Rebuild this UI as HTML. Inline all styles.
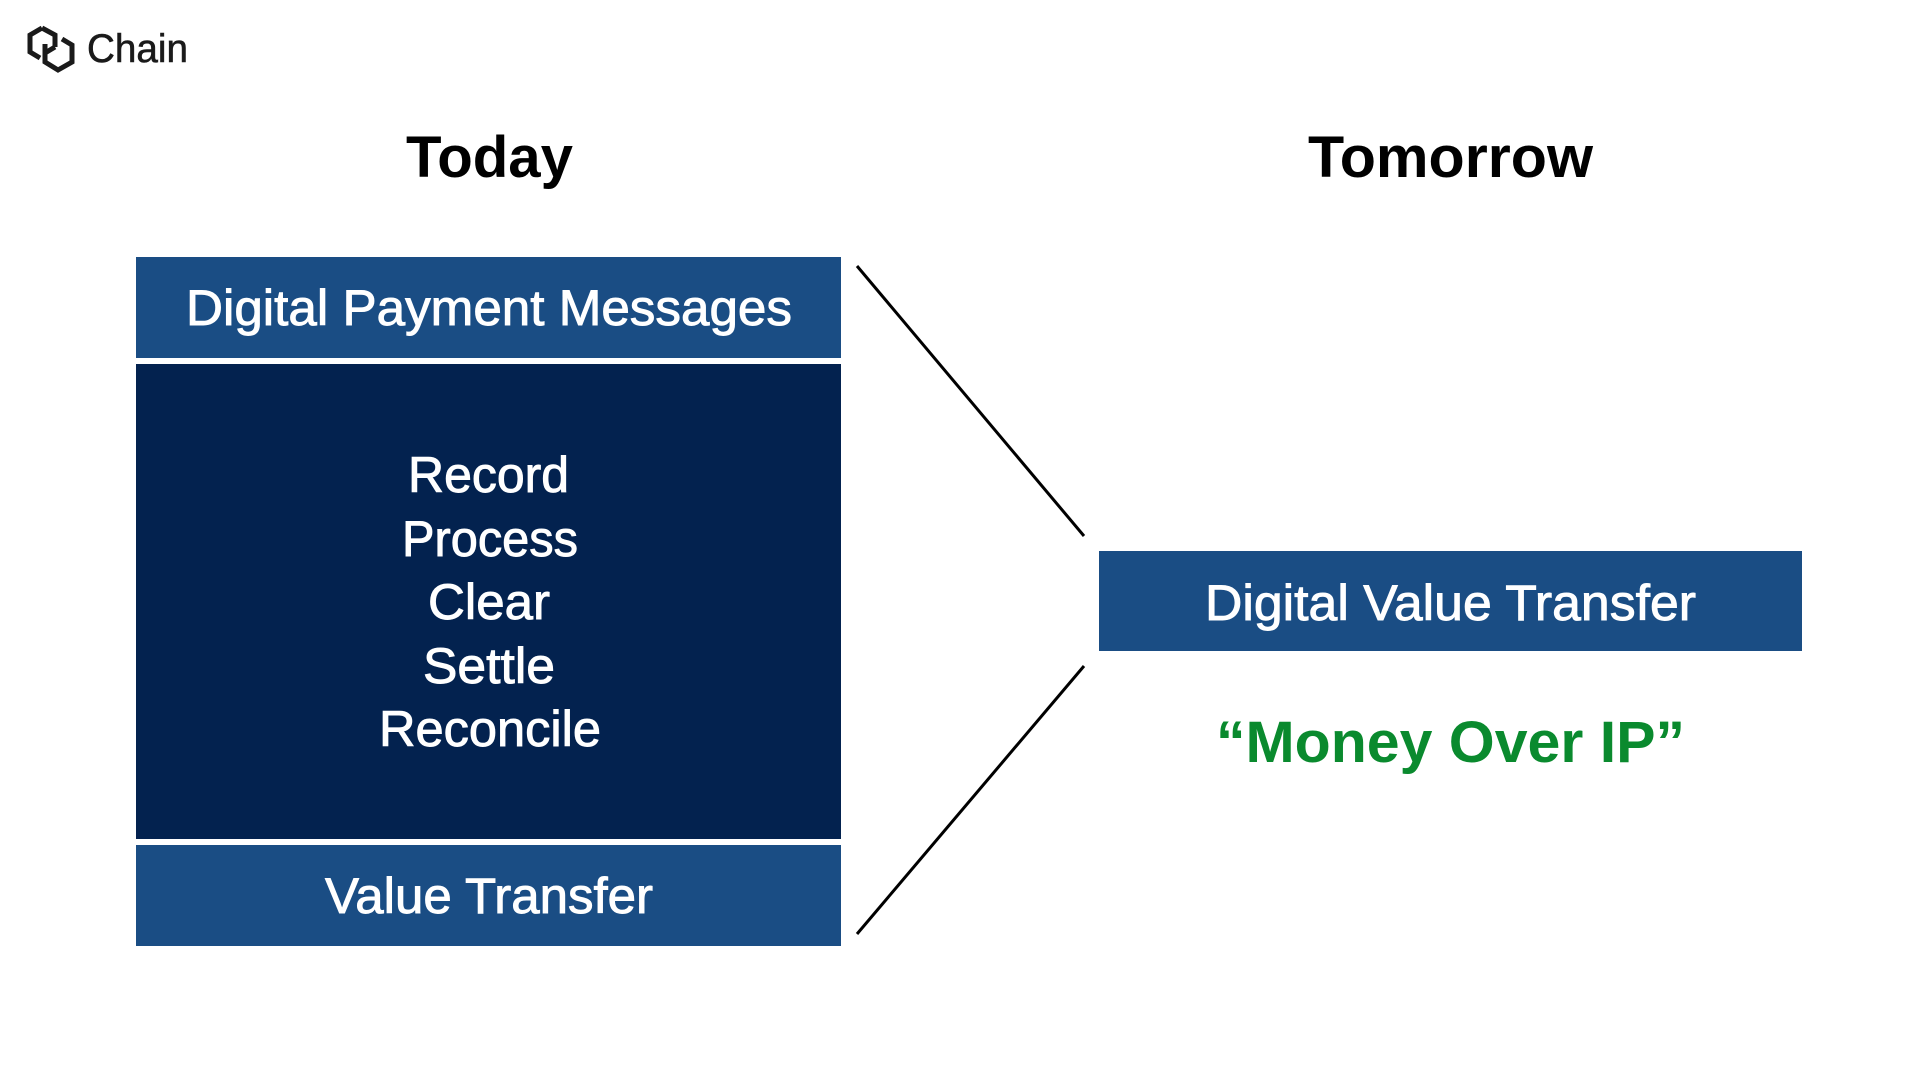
<!DOCTYPE html>
<html><head><meta charset="utf-8"><style>
html,body{margin:0;padding:0;background:#fff;}
svg{display:block}
text{font-family:"Liberation Sans",sans-serif;}
</style></head><body>
<svg width="1920" height="1080" viewBox="0 0 1920 1080" xmlns="http://www.w3.org/2000/svg">
<rect width="1920" height="1080" fill="#fff"/>
<g fill="none" stroke="#1a1a1a" stroke-width="5" stroke-linejoin="miter">
<path d="M42 28 L30 35 L30 52 L40 58"/>
<path d="M42 28 L55 35 L55 47"/>
<path d="M45 44 L45 62 L58 70 L72 62 L72 45 L62 39"/>
<path d="M55 47 L45 53"/>
</g>
<text x="87" y="62" font-size="40" fill="#1a1a1a" stroke="#1a1a1a" stroke-width="0.6" textLength="101" lengthAdjust="spacingAndGlyphs">Chain</text>
<text x="406" y="177" font-size="58" font-weight="bold" fill="#000" textLength="167" lengthAdjust="spacingAndGlyphs">Today</text>
<text x="1308" y="177" font-size="58" font-weight="bold" fill="#000" textLength="285" lengthAdjust="spacingAndGlyphs">Tomorrow</text>
<rect x="136" y="257" width="705" height="101" fill="#1a4d84"/>
<rect x="136" y="364" width="705" height="475" fill="#03224f"/>
<rect x="136" y="845" width="705" height="101" fill="#1a4d84"/>
<rect x="1099" y="551" width="703" height="100" fill="#1a4d84"/>
<g fill="#fff" stroke="#fff" stroke-width="0.9" font-size="50">
<text x="186" y="325" textLength="606" lengthAdjust="spacingAndGlyphs">Digital Payment Messages</text>
<text x="408" y="492" textLength="161" lengthAdjust="spacingAndGlyphs">Record</text>
<text x="402" y="556" textLength="176" lengthAdjust="spacingAndGlyphs">Process</text>
<text x="428" y="619" textLength="122" lengthAdjust="spacingAndGlyphs">Clear</text>
<text x="423" y="683" textLength="132" lengthAdjust="spacingAndGlyphs">Settle</text>
<text x="379" y="746" textLength="222" lengthAdjust="spacingAndGlyphs">Reconcile</text>
<text x="325" y="913" textLength="328" lengthAdjust="spacingAndGlyphs">Value Transfer</text>
<text x="1205" y="620" textLength="491" lengthAdjust="spacingAndGlyphs">Digital Value Transfer</text>
</g>
<text x="1216" y="762" font-size="58" font-weight="bold" fill="#0a8a2e" textLength="469" lengthAdjust="spacingAndGlyphs">“Money Over IP”</text>
<line x1="857" y1="266" x2="1084" y2="536" stroke="#000" stroke-width="3"/>
<line x1="857" y1="934" x2="1084" y2="666" stroke="#000" stroke-width="3"/>
</svg>
</body></html>
